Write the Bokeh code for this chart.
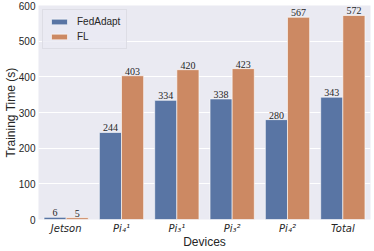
from bokeh.plotting import figure
from bokeh.models import ColumnDataSource, Range1d, FactorRange, LabelSet, Legend, LegendItem
from bokeh.transform import dodge
from bokeh.embed import file_html
from bokeh.resources import INLINE

devices = ["Jetson", "Pi₄¹", "Pi₃¹", "Pi₃²", "Pi₄²", "Total"]
fedadapt = [6, 244, 334, 338, 280, 343]
fl = [5, 403, 420, 423, 567, 572]
y_ticks = [0, 100, 200, 300, 400, 500, 600]

BLUE = "#5975A4"
ORANGE = "#CC8963"

src = ColumnDataSource(dict(
    dev=devices, fa=fedadapt, fl=fl,
    fa_t=[str(v) for v in fedadapt], fl_t=[str(v) for v in fl],
))

p = figure(width=374, height=251, x_range=FactorRange(*devices, range_padding=0),
           y_range=Range1d(0, 600), output_backend="svg", toolbar_location=None,
           min_border_left=0, min_border_right=4, min_border_top=5, min_border_bottom=0)

p.background_fill_color = "#EAEAF2"
p.border_fill_color = "white"
p.outline_line_color = None

r1 = p.vbar(x=dodge("dev", -0.2, range=p.x_range), top="fa", width=0.4, source=src,
            fill_color=BLUE, line_color="white", line_width=0.6)
r2 = p.vbar(x=dodge("dev", 0.2, range=p.x_range), top="fl", width=0.4, source=src,
            fill_color=ORANGE, line_color="white", line_width=0.6)

lab1 = LabelSet(x=dodge("dev", -0.2, range=p.x_range), y="fa", text="fa_t", source=src,
                text_align="center", text_baseline="bottom", y_offset=1,
                text_font_size="10px", text_color="#262626", text_font="Liberation Sans")
lab2 = LabelSet(x=dodge("dev", 0.2, range=p.x_range), y="fl", text="fl_t", source=src,
                text_align="center", text_baseline="bottom", y_offset=1,
                text_font_size="10px", text_color="#262626", text_font="Liberation Sans")
p.add_layout(lab1)
p.add_layout(lab2)

p.xgrid.grid_line_color = None
p.ygrid.grid_line_color = "white"
p.ygrid.grid_line_width = 1
p.yaxis.ticker = y_ticks

for ax in (p.xaxis[0], p.yaxis[0]):
    ax.axis_line_color = None
    ax.major_tick_line_color = None
    ax.minor_tick_line_color = None
    ax.major_tick_out = 0
    ax.major_tick_in = 0
    ax.minor_tick_out = 0
    ax.minor_tick_in = 0
    ax.major_label_text_color = "#262626"
    ax.axis_label_text_color = "#262626"
    ax.axis_label_text_font = "Liberation Sans"
    ax.axis_label_text_font_style = "normal"
    ax.axis_label_text_font_size = "12px"
    ax.major_label_text_font_size = "10px"

p.yaxis.major_label_text_font = "Liberation Sans"
p.xaxis.major_label_text_font = "DejaVu Sans"
p.xaxis.major_label_text_font_style = "italic"
p.xaxis.major_label_standoff = 3
p.yaxis.major_label_standoff = 3
p.xaxis.axis_label = "Devices"
p.yaxis.axis_label = "Training Time (s)"
p.xaxis.axis_label_standoff = -2
p.yaxis.axis_label_standoff = -2

legend = Legend(items=[LegendItem(label="FedAdapt", renderers=[r1]),
                       LegendItem(label="FL", renderers=[r2])],
                location="top_left")
legend.label_text_font = "Liberation Sans"
legend.label_text_font_size = "10px"
legend.label_text_color = "#262626"
legend.background_fill_color = "#EAEAF2"
legend.background_fill_alpha = 0.8
legend.border_line_color = "#D0D0D8"
legend.glyph_width = 20
legend.glyph_height = 7
legend.label_height = 10
legend.label_standoff = 8
legend.spacing = 4
legend.padding = 6
legend.margin = 4
p.add_layout(legend)

open("out.html", "w").write(file_html(p, INLINE))
